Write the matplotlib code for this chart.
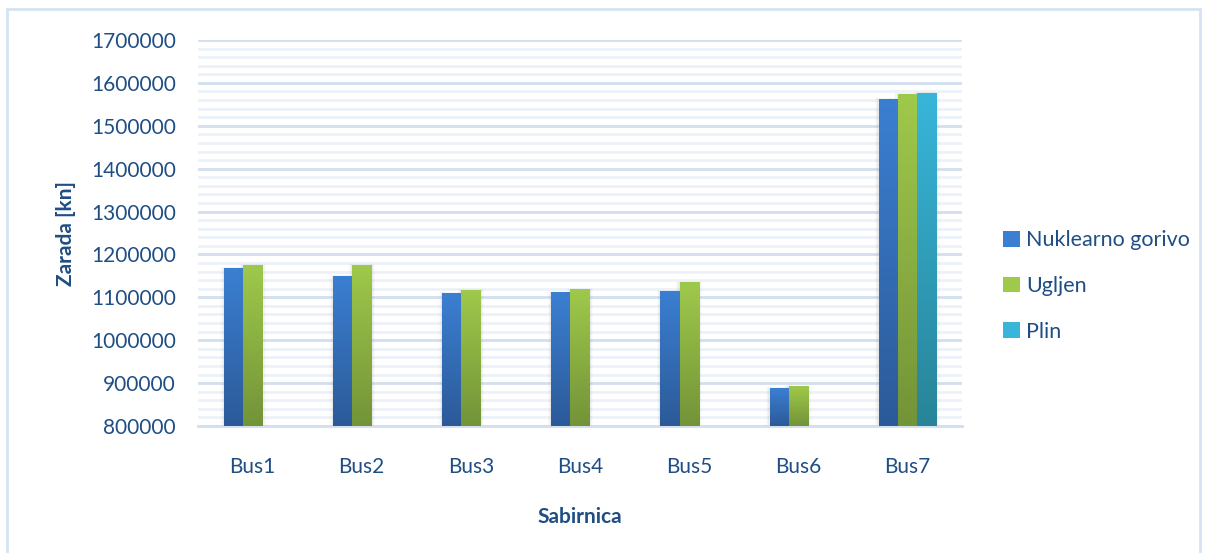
import matplotlib.pyplot as plt
import numpy as np
from matplotlib.patches import Rectangle
from matplotlib.colors import LinearSegmentedColormap

# data
buses = ['Bus1', 'Bus2', 'Bus3', 'Bus4', 'Bus5', 'Bus6', 'Bus7']
nuklearno = [1168500, 1150000, 1110000, 1112000, 1115000, 888500, 1562500]
ugljen = [1175500, 1175500, 1117000, 1119000, 1135000, 893000, 1574000]
plin = [0, 0, 0, 0, 0, 0, 1576500]
yticks = list(range(800000, 1700001, 100000))

series = [('Nuklearno gorivo', nuklearno, '#3B7FD2', '#2C5A98'),
          ('Ugljen', ugljen, '#9FC94B', '#739338'),
          ('Plin', plin, '#38B6DA', '#288498')]

txt = '#1F4E84'
plt.rcParams['font.family'] = ['Lato', 'DejaVu Sans']

fig = plt.figure(figsize=(12.06, 5.53), dpi=100)
ax = fig.add_axes([198/1206, 1-426/553, 764/1206, 386/553])

# outer chart border
fig.patches.append(Rectangle((7/1206, -0.02), 1193/1206, 1.02-9/553,
                             transform=fig.transFigure, fill=False,
                             ec='#D6E2F1', lw=2))

x = np.arange(len(buses))
w = 0.175
bars_all = []
for i, (name, vals, top, bot) in enumerate(series):
    bars = ax.bar(x + (i - 1) * w, vals, w, bottom=0, fc='none', ec='none',
                  label=name, zorder=3)
    bars_all.append((bars, top, bot))

# gradient fill + soft shadow
for bars, top, bot in bars_all:
    cmap = LinearSegmentedColormap.from_list('g', [bot, top])
    grad = np.linspace(0, 1, 256).reshape(-1, 1)
    for b in bars:
        if b.get_height() <= 800000:
            continue
        x0, wd, h = b.get_x(), b.get_width(), b.get_height()
        for k, a in zip([0.012, 0.022, 0.034], [0.07, 0.05, 0.03]):
            ax.add_patch(Rectangle((x0 - k, 800000), wd + 2 * k, h - 800000 + k * 60000,
                                   fc='#808080', alpha=a, ec='none', zorder=2))
        im = ax.imshow(grad, cmap=cmap, origin='lower', aspect='auto',
                       extent=(x0, x0 + wd, 800000, h), zorder=4)
        im.set_clip_path(b)

ax.set_xlim(-0.5, len(buses) - 0.5)
ax.set_ylim(800000, 1700000)
ax.set_aspect('auto')

ax.set_yticks(yticks)
ax.set_yticklabels([str(v) for v in yticks])
ax.set_yticks(np.arange(800000, 1700001, 20000), minor=True)
ax.grid(which='major', axis='y', color='#D3DFEF', lw=2, zorder=0)
ax.grid(which='minor', axis='y', color='#EDF2F9', lw=2, zorder=0)
ax.set_axisbelow(True)
for s in ['top', 'right', 'left']:
    ax.spines[s].set_visible(False)
ax.spines['bottom'].set_color('#D3DFEF')
ax.spines['bottom'].set_linewidth(2)
ax.tick_params(which='both', length=0)
ax.tick_params(axis='y', pad=16, labelsize=15, labelcolor=txt)
ax.tick_params(axis='x', pad=22, labelsize=15, labelcolor=txt)
ax.set_xticks(x)
ax.set_xticklabels(buses)

ax.set_xlabel('Sabirnica', fontsize=15, fontweight='bold', color=txt, labelpad=22)
ax.set_ylabel('Zarada [kn]', fontsize=15, fontweight='bold', color=txt, labelpad=11)

# legend
handles = []
for name, vals, top, bot in series:
    handles.append(Rectangle((0, 0), 1, 1, fc=top, ec='none'))
fig.legend(handles, [s[0] for s in series], loc='center left',
           bbox_to_anchor=(984/1206, 1-286/553), frameon=False, fontsize=15.5,
           labelcolor=txt, handlelength=0.75, handleheight=0.75, handletextpad=0.3,
           labelspacing=1.2)

fig.savefig('out.png', dpi=100)
